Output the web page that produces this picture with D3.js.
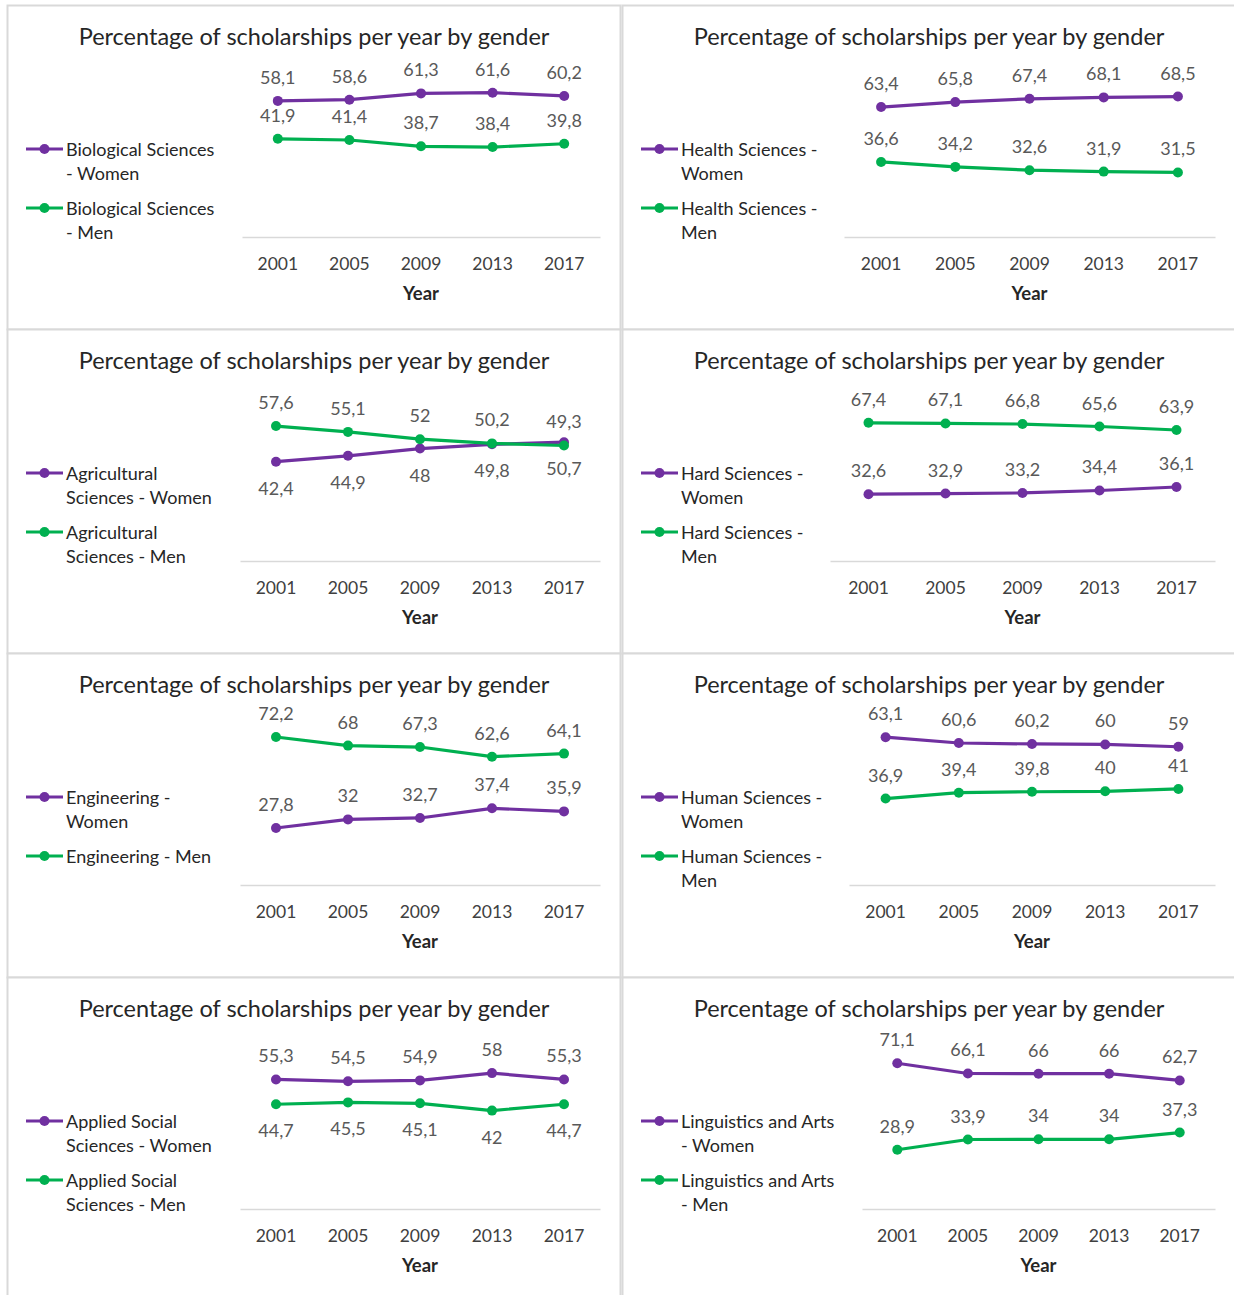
<!DOCTYPE html>
<html>
<head>
<meta charset="utf-8">
<script src="https://cdn.jsdelivr.net/npm/d3@7"></script>
<style>
  html, body { margin: 0; padding: 0; background: #ffffff; }
  svg { display: block; }
  text { font-family: Lato, "Open Sans", "Noto Sans", sans-serif; }
</style>
</head>
<body>
<svg id="chart" width="1234" height="1295"></svg>
<script>
// Scholarship shares by field of study, women vs men, 2001-2017
const years = ["2001", "2005", "2009", "2013", "2017"];

const fields = [
  "Biological Sciences", "Health Sciences",
  "Agricultural Sciences", "Hard Sciences",
  "Engineering", "Human Sciences",
  "Applied Social Sciences", "Linguistics and Arts"
];

const womenValues = [
  [58.1, 58.6, 61.3, 61.6, 60.2],
  [63.4, 65.8, 67.4, 68.1, 68.5],
  [42.4, 44.9, 48, 49.8, 50.7],
  [32.6, 32.9, 33.2, 34.4, 36.1],
  [27.8, 32, 32.7, 37.4, 35.9],
  [63.1, 60.6, 60.2, 60, 59],
  [55.3, 54.5, 54.9, 58, 55.3],
  [71.1, 66.1, 66, 66, 62.7]
];

const menValues = [
  [41.9, 41.4, 38.7, 38.4, 39.8],
  [36.6, 34.2, 32.6, 31.9, 31.5],
  [57.6, 55.1, 52, 50.2, 49.3],
  [67.4, 67.1, 66.8, 65.6, 63.9],
  [72.2, 68, 67.3, 62.6, 64.1],
  [36.9, 39.4, 39.8, 40, 41],
  [44.7, 45.5, 45.1, 42, 44.7],
  [28.9, 33.9, 34, 34, 37.3]
];

// Legend entries as they wrap in each chart
const womenLegend = [
  ["Biological Sciences", "- Women"],
  ["Health Sciences -", "Women"],
  ["Agricultural", "Sciences - Women"],
  ["Hard Sciences -", "Women"],
  ["Engineering -", "Women"],
  ["Human Sciences -", "Women"],
  ["Applied Social", "Sciences - Women"],
  ["Linguistics and Arts", "- Women"]
];

const menLegend = [
  ["Biological Sciences", "- Men"],
  ["Health Sciences -", "Men"],
  ["Agricultural", "Sciences - Men"],
  ["Hard Sciences -", "Men"],
  ["Engineering - Men"],
  ["Human Sciences -", "Men"],
  ["Applied Social", "Sciences - Men"],
  ["Linguistics and Arts", "- Men"]
];

// Which side of the marker each series' value labels sit on
const womenLabelSide = ["above", "above", "below", "above", "above", "above", "above", "above"];
const menLabelSide   = ["above", "above", "above", "above", "above", "above", "below", "above"];

const chartTitle = "Percentage of scholarships per year by gender";
const xAxisTitle = "Year";

// ---- layout ----
const panelW = 613, panelH = 324;
const colX = [7.5, 622.5];
const rowY = [5.5, 329.5, 653.5, 977.5];
// left edge of each plot area inside its panel (legend widths differ)
const plotLeft = [234.5, 221.5, 232.5, 207.5, 232.5, 226.5, 232.5, 239.5];
const plotRight = 592.5, plotTop = 67.5, plotBottom = 231.5;

const colors = { women: "#7030A0", men: "#00B050" };

const locale = d3.formatLocale({ decimal: ",", thousands: ".", grouping: [3], currency: ["", ""] });
const fmt = locale.format(".3~g");

const svg = d3.select("#chart");
svg.append("rect").attr("width", 1234).attr("height", 1295).attr("fill", "#fff");

fields.forEach((field, i) => {
  const col = i % 2, row = Math.floor(i / 2);
  const g = svg.append("g")
    .attr("class", "panel")
    .attr("transform", `translate(${colX[col]},${rowY[row]})`);

  g.append("rect")
    .attr("width", panelW).attr("height", panelH)
    .attr("fill", "#fff")
    .attr("stroke", "#d9d9d9").attr("stroke-width", 2);

  g.append("text")
    .attr("x", panelW / 2).attr("y", 30.5)
    .attr("text-anchor", "middle").attr("dominant-baseline", "central")
    .attr("font-size", 23.5).attr("fill", "#262626")
    .text(chartTitle);

  const series = [
    { key: "women", values: womenValues[i], legend: womenLegend[i], side: womenLabelSide[i] },
    { key: "men", values: menValues[i], legend: menLegend[i], side: menLabelSide[i] }
  ];

  const allVals = womenValues[i].concat(menValues[i]);
  const vMax = d3.max(allVals);
  const yMax = Math.ceil(vMax * 1.05 / 10) * 10;

  const x = d3.scaleBand().domain(years).range([plotLeft[i], plotRight]);
  const y = d3.scaleLinear().domain([0, yMax]).range([plotBottom, plotTop]);

  // category axis
  const xAxis = g.append("g")
    .attr("transform", `translate(0,${plotBottom})`)
    .call(d3.axisBottom(x).tickSize(0).tickPadding(0));
  xAxis.select(".domain").attr("stroke", "#d9d9d9").attr("stroke-width", 1.5);
  xAxis.selectAll(".tick text")
    .attr("y", 26).attr("dy", null)
    .attr("dominant-baseline", "central")
    .attr("font-size", 17.5).attr("fill", "#404040")
    .attr("font-family", "Lato, 'Open Sans', sans-serif");

  g.append("text")
    .attr("x", (plotLeft[i] + plotRight) / 2).attr("y", 287.5)
    .attr("text-anchor", "middle").attr("dominant-baseline", "central")
    .attr("font-size", 18.5).attr("font-weight", "bold").attr("fill", "#262626")
    .text(xAxisTitle);

  const line = d3.line()
    .x((d, j) => x(years[j]) + x.bandwidth() / 2)
    .y(d => y(d));

  series.forEach(s => {
    g.append("path")
      .datum(s.values)
      .attr("fill", "none")
      .attr("stroke", colors[s.key])
      .attr("stroke-width", 3.2)
      .attr("stroke-linejoin", "round")
      .attr("stroke-linecap", "round")
      .attr("d", line);

    g.selectAll(null)
      .data(s.values)
      .join("circle")
      .attr("cx", (d, j) => x(years[j]) + x.bandwidth() / 2)
      .attr("cy", d => y(d))
      .attr("r", 5)
      .attr("fill", colors[s.key]);

    g.selectAll(null)
      .data(s.values)
      .join("text")
      .attr("x", (d, j) => x(years[j]) + x.bandwidth() / 2)
      .attr("y", d => y(d) + (s.side === "above" ? -24 : 26))
      .attr("text-anchor", "middle").attr("dominant-baseline", "central")
      .attr("font-size", 18).attr("fill", "#595959")
      .text(d => fmt(d));
  });

  // legend
  const legendY = [143.5, 202.5];
  series.forEach((s, k) => {
    const ly = legendY[k];
    g.append("line")
      .attr("x1", 18.5).attr("x2", 55.5)
      .attr("y1", ly).attr("y2", ly)
      .attr("stroke", colors[s.key]).attr("stroke-width", 3.2);
    g.append("circle")
      .attr("cx", 37).attr("cy", ly).attr("r", 5)
      .attr("fill", colors[s.key]);
    s.legend.forEach((txt, m) => {
      g.append("text")
        .attr("x", 58.5).attr("y", ly + m * 24)
        .attr("dominant-baseline", "central")
        .attr("font-size", 18).attr("fill", "#262626")
        .text(txt);
    });
  });
});
</script>
</body>
</html>
